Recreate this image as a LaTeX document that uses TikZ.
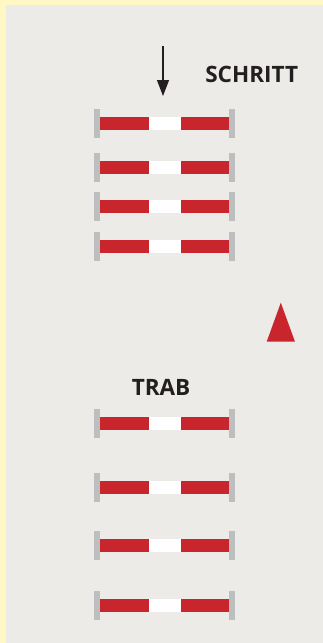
\documentclass[tikz,border=0pt]{standalone}
\usepackage{fontspec}
\setmainfont{Open Sans}
\usetikzlibrary{arrows.meta}
\definecolor{framyellow}{HTML}{FFF8C4}
\definecolor{groundgray}{HTML}{ECEBE7}
\definecolor{polered}{HTML}{C9252C}
\definecolor{standgray}{HTML}{BDBEC0}
\definecolor{darktext}{HTML}{231F20}
\tikzset{
  stand/.style={fill=standgray},
  redpart/.style={fill=polered},
  whitepart/.style={fill=white},
  label/.style={font=\fontsize{16.9}{20}\selectfont\bfseries,text=darktext,inner sep=0pt,anchor=base west},
  markarrow/.style={-{Triangle[length=12pt,width=9pt]},line width=0.9pt,darktext}
}

\begin{document}
\begin{tikzpicture}[x={(0.75pt,0pt)}, y={(0pt,-0.75pt)}]
  \useasboundingbox (0,0) rectangle (323,643);
  % frame and ground
  \fill[framyellow] (0,0) rectangle (323,643);
  \fill[groundgray] (6,5) rectangle (323,643);
  % cavaletti poles
  \foreach \c in {123.3,167.3,206.3,246.3,423.3,487.5,545.5,605.5}{
    \fill[stand] (94,{\c-14.5}) rectangle (100,{\c+14.5});
    \fill[stand] (229,{\c-14.5}) rectangle (235,{\c+14.5});
    \fill[redpart] (100,{\c-6.5}) rectangle (149,{\c+6.5});
    \fill[whitepart] (149,{\c-6.5}) rectangle (181,{\c+6.5});
    \fill[redpart] (181,{\c-6.5}) rectangle (229,{\c+6.5});
  }
  % labels
  \node[label] (schritt) at (205,82) {SCHRITT};
  \node[label] (trab) at (131.5,395.7) {TRAB};
  % entry arrow
  \coordinate (arrowtop) at (163,46);
  \coordinate (arrowtip) at (163,96);
  \draw[markarrow] (arrowtop) -- (arrowtip);
  % direction triangle
  \fill[polered] (266.7,341.7) -- (295,341.7) -- (280.8,302.7) -- cycle;
\end{tikzpicture}
\end{document}
